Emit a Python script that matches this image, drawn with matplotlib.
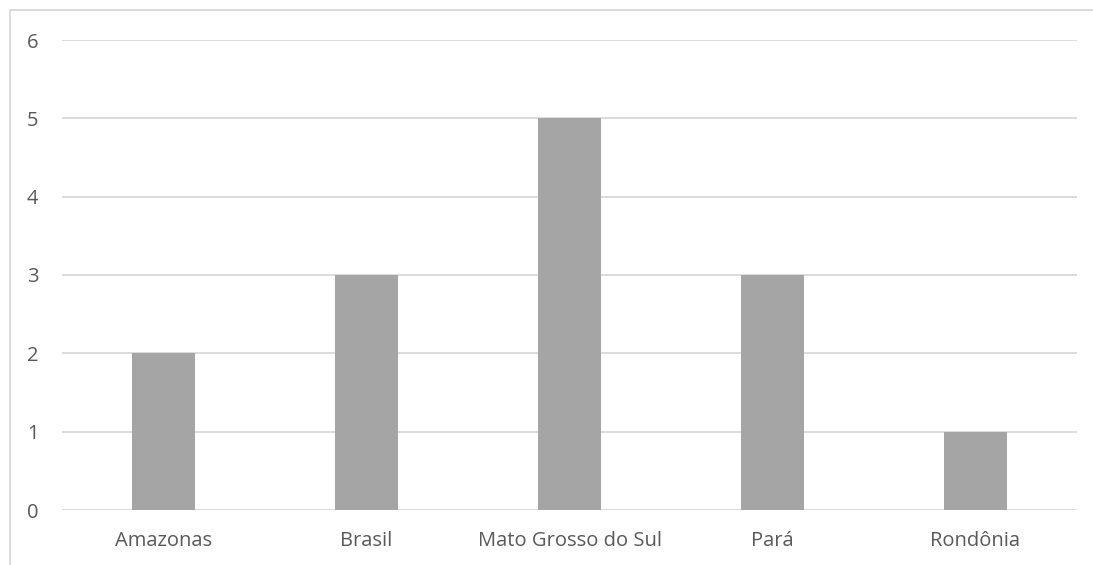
import matplotlib.pyplot as plt
from matplotlib.patches import Rectangle

# data
categories = ["Amazonas", "Brasil", "Mato Grosso do Sul", "Pará", "Rondônia"]
values = [2, 3, 5, 3, 1]
y_ticks = [0, 1, 2, 3, 4, 5, 6]

W, H = 1093, 565
fig = plt.figure(figsize=(W / 100, H / 100), dpi=100)
plt.rcParams['font.family'] = ['Open Sans', 'DejaVu Sans']

ax = fig.add_axes([62 / W, 1 - 510 / H, (1077 - 62) / W, (510 - 40) / H])
x_pos = list(range(len(categories)))
ax.bar(x_pos, values, width=0.31, color="#A5A5A5", zorder=3)

ax.set_xlim(-0.5, len(categories) - 0.5)
ax.set_ylim(0, 6)
ax.set_yticks(y_ticks)
ax.set_xticks(x_pos)
ax.set_xticklabels(categories)
ax.grid(axis="y", color="#D9D9D9", linewidth=1.3, zorder=0)
for s in ax.spines.values():
    s.set_visible(False)
ax.tick_params(length=0, colors="#595959", labelsize=14.5)
ax.tick_params(axis="y", pad=17)
ax.tick_params(axis="x", pad=15)

# outer chart border (runs off the right and bottom edges)
fig.patches.append(Rectangle((10 / W, -0.1), 1.2, 1 - 10 / H + 0.1,
                             transform=fig.transFigure, fill=False,
                             edgecolor="#D9D9D9", linewidth=1.3))

fig.savefig("out.png", dpi=100)
